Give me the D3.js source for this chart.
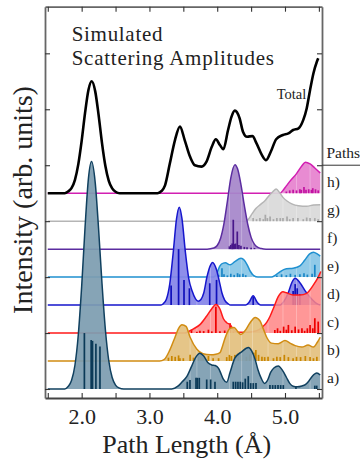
<!DOCTYPE html>
<html><head><meta charset="utf-8">
<script src="https://cdnjs.cloudflare.com/ajax/libs/d3/7.8.5/d3.min.js"></script>
<style>body{margin:0;background:#fff}svg{display:block}text{font-family:"Liberation Serif","DejaVu Serif",serif;fill:#222}</style>
</head><body><svg id="c" width="360" height="462"></svg>
<script>
// ---- data (x in Å, height in units of baseline spacing) ----
const seriesLabels = ["a)","b)","c)","d)","e)","f)","g)","h)"];
const offsets = [0,1,2,3,4,5,6,7];
const totalOffset = 7;
const xTickValues = [1.5,2,2.5,3,3.5,4,4.5,5,5.5];
const xTickLabels = ["","2.0","","3.0","","4.0","","5.0",""];
const yTickValues = [0,2,4,6,8,10,12];
const guideX = [3.60,3.70,3.90,4.18,4.36,4.52,4.75,4.97,5.17,5.37];

const pathA = [[1.5,0],[1.75,0],[1.80,0.09],[1.85,0.30],[1.90,0.84],[1.95,1.93],[2.00,3.67],[2.05,5.78],[2.10,7.53],[2.145,8.13],[2.20,7.38],[2.25,5.71],[2.30,3.77],[2.35,2.12],[2.40,1.01],[2.45,0.41],[2.50,0.14],[2.55,0.04],[2.62,0],[3.33,0],[3.42,0.1],[3.48,0.25],[3.55,0.44],[3.62,0.8],[3.68,1.12],[3.745,1.28],[3.80,1.18],[3.86,0.95],[3.92,0.86],[3.97,0.84],[4.02,0.74],[4.06,0.52],[4.09,0.35],[4.14,0.24],[4.19,0.6],[4.26,1.1],[4.36,1.33],[4.46,1.48],[4.51,1.35],[4.56,1.05],[4.60,0.7],[4.65,0.38],[4.70,0.2],[4.74,0.3],[4.79,0.6],[4.84,0.76],[4.90,0.82],[4.97,0.64],[5.02,0.42],[5.07,0.2],[5.12,0.1],[5.18,0.08],[5.25,0.11],[5.30,0.16],[5.35,0.28],[5.40,0.45],[5.47,0.57],[5.52,0.5]];
const pathB = [[1.5,0],[3.15,0],[3.22,0.06],[3.30,0.39],[3.38,0.87],[3.43,1.17],[3.48,1.3],[3.54,1.24],[3.60,0.85],[3.70,0.42],[3.79,0.26],[3.90,0.22],[3.98,0.24],[4.04,0.3],[4.08,0.55],[4.12,0.85],[4.19,1.17],[4.25,1.2],[4.30,1.06],[4.35,0.95],[4.41,1.08],[4.48,1.35],[4.56,1.56],[4.63,1.44],[4.68,1.15],[4.73,0.85],[4.80,0.64],[4.90,0.62],[5.0,0.73],[5.08,0.63],[5.15,0.55],[5.25,0.5],[5.34,0.57],[5.42,0.5],[5.48,0.68],[5.52,0.85]];
const pathC = [[1.5,0],[3.52,0],[3.58,0.06],[3.65,0.15],[3.745,0.3],[3.84,0.59],[3.92,0.87],[3.98,1.02],[4.04,0.86],[4.09,0.52],[4.14,0.37],[4.19,0.3],[4.24,0.13],[4.30,0.03],[4.45,0.03],[4.58,0.08],[4.66,0.2],[4.73,0.38],[4.78,0.6],[4.84,0.95],[4.90,1.3],[4.97,1.48],[5.02,1.44],[5.12,1.36],[5.22,1.36],[5.32,1.42],[5.42,1.72],[5.49,2.0],[5.53,2.2]];
const pathD = [[1.5,0],[3.16,0],[3.20,0.04],[3.25,0.21],[3.30,0.76],[3.35,1.86],[3.40,3.09],[3.44,3.5],[3.48,3.09],[3.53,1.9],[3.58,0.95],[3.63,0.5],[3.68,0.22],[3.72,0.14],[3.76,0.2],[3.80,0.42],[3.85,1.02],[3.90,1.42],[3.93,1.52],[3.99,1.26],[4.04,0.75],[4.07,0.43],[4.11,0.18],[4.16,0.05],[4.20,0],[4.42,0],[4.47,0.1],[4.53,0.33],[4.59,0.1],[4.64,0],[4.92,0],[4.98,0.12],[5.05,0.45],[5.10,0.8],[5.15,0.96],[5.22,0.8],[5.30,0.5],[5.40,0.2],[5.47,0.05],[5.52,0]];
const pathE = [[1.5,0],[3.95,0],[3.99,0.12],[4.04,0.4],[4.09,0.5],[4.12,0.51],[4.19,0.44],[4.26,0.55],[4.35,0.67],[4.40,0.6],[4.44,0.45],[4.49,0.2],[4.54,0.05],[4.60,0],[4.80,0],[4.86,0.07],[4.93,0.2],[5.02,0.3],[5.12,0.32],[5.22,0.4],[5.29,0.6],[5.36,0.82],[5.42,0.89],[5.48,0.82],[5.52,0.75]];
const pathF = [[1.5,0],[3.85,0],[3.95,0.04],[4.00,0.13],[4.05,0.39],[4.10,0.92],[4.15,1.71],[4.20,2.54],[4.262,3.02],[4.30,2.87],[4.35,2.31],[4.40,1.56],[4.45,0.89],[4.50,0.42],[4.55,0.17],[4.60,0.06],[4.65,0.02],[4.72,0],[5.52,0]];
const pathG = [[1.5,0],[4.42,0],[4.47,0.1],[4.51,0.25],[4.57,0.45],[4.64,0.6],[4.70,0.72],[4.76,0.9],[4.82,1.05],[4.87,1.15],[4.92,1.02],[4.97,0.85],[5.03,0.72],[5.10,0.62],[5.20,0.55],[5.32,0.53],[5.42,0.58],[5.52,0.59]];
const pathH = [[1.5,0],[4.93,0],[4.97,0.1],[5.02,0.26],[5.08,0.45],[5.17,0.7],[5.25,0.98],[5.30,1.11],[5.37,1.05],[5.44,0.9],[5.52,0.72]];
const totalCurve = [[1.5,0],[1.75,0],[1.80,0.06],[1.85,0.18],[1.90,0.47],[1.95,1.03],[2.00,1.87],[2.05,2.87],[2.10,3.69],[2.148,4.0],[2.20,3.64],[2.25,2.79],[2.30,1.79],[2.35,0.97],[2.40,0.44],[2.45,0.17],[2.50,0.05],[2.56,0],[3.12,0],[3.18,0.08],[3.23,0.28],[3.30,1.05],[3.377,1.9],[3.45,2.38],[3.52,1.9],[3.60,1.3],[3.67,1.0],[3.77,0.95],[3.84,1.12],[3.92,1.66],[3.98,1.93],[4.04,1.72],[4.09,1.57],[4.16,2.26],[4.21,2.73],[4.26,2.95],[4.33,2.68],[4.38,2.2],[4.44,2.02],[4.52,2.04],[4.58,1.78],[4.66,1.36],[4.72,1.18],[4.79,1.48],[4.87,1.93],[4.97,2.08],[5.05,2.14],[5.12,2.26],[5.20,2.32],[5.27,2.62],[5.32,3.03],[5.37,3.69],[5.42,4.29],[5.47,4.7],[5.49,4.82]];

const sticksA = [[2.04,2.0],[2.14,1.75],[2.16,1.72],[2.21,1.62],[2.27,1.52],[3.558,0.26],[3.598,0.32],[3.687,0.4],[3.706,0.4],[3.735,0.4],[3.845,0.34],[3.903,0.34],[3.967,0.26],[4.237,0.26],[4.272,0.26],[4.306,0.26],[4.34,0.26],[4.375,0.24],[4.414,0.37],[4.458,0.46],[4.494,0.21],[4.532,0.21],[4.572,0.21],[4.778,0.14],[4.818,0.14],[4.857,0.14],[4.897,0.14],[4.936,0.14],[4.975,0.14],[5.162,0.1],[5.44,0.12],[5.468,0.12]];
const sticksB = [[3.28,0.12],[3.33,0.18],[3.38,0.15],[3.43,0.2],[3.45,0.1],[3.50,0.1],[3.60,0.22],[3.65,0.12],[3.72,0.16],[3.76,0.27],[3.79,0.14],[3.87,0.18],[3.94,0.1],[4.02,0.1],[4.14,0.14],[4.18,0.22],[4.21,0.18],[4.26,0.22],[4.31,0.27],[4.36,0.22],[4.43,0.15],[4.48,0.24],[4.54,0.3],[4.57,0.39],[4.61,0.22],[4.66,0.15],[4.70,0.14],[4.75,0.15],[4.83,0.1],[4.88,0.15],[4.93,0.14],[4.99,0.22],[5.05,0.14],[5.12,0.1],[5.17,0.15],[5.23,0.14],[5.30,0.18],[5.37,0.14],[5.42,0.1],[5.47,0.15]];
const sticksC = [[3.62,0.11],[3.70,0.05],[3.745,0.08],[3.80,0.07],[3.87,0.12],[3.92,0.06],[3.98,0.94],[4.04,0.06],[4.11,0.09],[4.19,0.35],[4.24,0.06],[4.85,0.11],[4.89,0.17],[4.93,0.08],[4.98,0.23],[5.02,0.12],[5.05,0.29],[5.10,0.1],[5.15,0.23],[5.20,0.13],[5.25,0.17],[5.29,0.08],[5.33,0.17],[5.37,0.29],[5.41,0.17],[5.44,0.53],[5.49,0.41]];
const sticksD = [[3.32,0.7],[3.43,2.0],[3.51,0.9],[3.59,0.6],[3.89,0.78],[3.99,0.9],[4.53,0.3],[5.12,0.5],[5.15,0.75],[5.18,0.6],[5.22,0.4]];
const sticksE = [[4.02,0.08],[4.07,0.32],[4.10,0.1],[4.15,0.06],[4.20,0.12],[4.25,0.08],[4.30,0.14],[4.33,0.1],[4.38,0.12],[4.42,0.07],[4.88,0.06],[4.95,0.1],[5.02,0.07],[5.08,0.12],[5.15,0.08],[5.22,0.1],[5.28,0.14],[5.33,0.09],[5.40,0.12],[5.44,0.44]];
const sticksF = [[4.18,0.1],[4.20,0.15],[4.22,0.2],[4.237,1.05],[4.25,0.18],[4.27,0.2],[4.296,0.63],[4.32,0.15],[4.35,0.12],[4.40,0.08],[4.44,0.07],[4.50,0.05],[4.55,0.04]];
const sticksG = [[4.53,0.11],[4.58,0.07],[4.63,0.11],[4.68,0.07],[4.71,0.23],[4.74,0.11],[4.78,0.17],[4.83,0.07],[4.88,0.11],[4.93,0.11],[4.97,0.11],[5.03,0.17],[5.07,0.07],[5.12,0.11],[5.19,0.11],[5.27,0.07],[5.32,0.13],[5.37,0.11],[5.44,0.11],[5.49,0.07]];
const sticksH = [[5.02,0.06],[5.07,0.1],[5.12,0.12],[5.17,0.1],[5.22,0.14],[5.24,0.12],[5.28,0.22],[5.31,0.12],[5.35,0.14],[5.39,0.12],[5.41,0.18],[5.45,0.14],[5.49,0.1]];

const fillColors  = ["#7d9db0","#e3c17f","#ff8585","#8585e8","#88c6e6","#a687ca","#d9d9d9","#e682cf"];
const lineColors  = ["#10405f","#d18c12","#ff1a1a","#1616cc","#1f90d0","#5b2ca0","#b5b5b5","#d21fb2"];
const stickColors = ["#0b3a58","#c98600","#ee0000","#1010bb","#1a86c6","#48188a","#a9a9a9","#c212a2"];

const curves = [pathA,pathB,pathC,pathD,pathE,pathF,pathG,pathH];
const sticks = [sticksA,sticksB,sticksC,sticksD,sticksE,sticksF,sticksG,sticksH];

// ---- chart ----
const svg = d3.select("#c");
const x = d3.scaleLinear().domain([1.459,5.546]).range([45,322]);
const y = d3.scaleLinear().domain([-0.322,13.667]).range([398,6.7]);

const defs = svg.append("defs");
const g = svg.append("g");

for (let i = curves.length-1; i >= 0; i--) {
  const off = offsets[i];
  const area = d3.area().curve(d3.curveMonotoneX)
    .x(d=>x(d[0])).y0(y(off)).y1(d=>y(off+d[1]));
  const line = d3.line().curve(d3.curveMonotoneX)
    .x(d=>x(d[0])).y(d=>y(off+d[1]));
  const grp = g.append("g");
  defs.append("clipPath").attr("id","clip"+i).append("path").attr("d",area(curves[i]));
  grp.append("path").attr("d",area(curves[i])).attr("fill",fillColors[i]).attr("fill-opacity",i===2?0.85:0.93);
  grp.append("g").attr("clip-path","url(#clip"+i+")").selectAll("line").data(guideX).join("line")
    .attr("x1",d=>x(d)).attr("x2",d=>x(d)).attr("y1",y(off)).attr("y2",y(off+4))
    .attr("stroke","#fff").attr("stroke-opacity",0.28).attr("stroke-width",1);
  grp.append("g").selectAll("line").data(sticks[i]).join("line")
    .attr("x1",d=>x(d[0])).attr("x2",d=>x(d[0]))
    .attr("y1",y(off)).attr("y2",d=>y(off+d[1]))
    .attr("stroke",stickColors[i]).attr("stroke-width",1.7);
  grp.append("path").attr("d",line(curves[i])).attr("fill","none")
    .attr("stroke",lineColors[i]).attr("stroke-width",1.5);
}

// total
g.append("path").attr("d",d3.line().curve(d3.curveMonotoneX).x(d=>x(d[0])).y(d=>y(totalOffset+d[1]))(totalCurve))
  .attr("fill","none").attr("stroke","#000").attr("stroke-width",2.6);

// axes
const axB = svg.append("g").attr("transform","translate(0,398)")
  .call(d3.axisBottom(x).tickValues(xTickValues).tickSizeInner(-5).tickSizeOuter(0).tickPadding(10.5)
    .tickFormat((d,i)=>xTickLabels[i]));
const axT = svg.append("g").attr("transform","translate(0,6.7)")
  .call(d3.axisTop(x).tickValues(xTickValues).tickSizeInner(-5).tickSizeOuter(0).tickFormat(""));
const axL = svg.append("g").attr("transform","translate(45,0)")
  .call(d3.axisLeft(y).tickValues(yTickValues).tickSizeInner(-5).tickSizeOuter(0).tickFormat(""));
const axR = svg.append("g").attr("transform","translate(322,0)")
  .call(d3.axisRight(y).tickValues(yTickValues).tickSizeInner(-5).tickSizeOuter(0).tickFormat(""));
[axB,axT,axL,axR].forEach(a=>{
  a.select(".domain").attr("stroke","#666").attr("stroke-width",1.8);
  a.selectAll(".tick line").attr("stroke","#333").attr("stroke-width",1.1);
});
axB.select(".domain").attr("stroke","#444");
axB.selectAll(".tick text").attr("font-family","Liberation Serif, serif").attr("font-size",22).attr("fill","#222");

// texts
svg.append("text").attr("x",186.7).attr("y",453).attr("text-anchor","middle").attr("font-size",26).text("Path Length (Å)");
svg.append("text").attr("transform","translate(32,200) rotate(-90)").attr("text-anchor","middle").attr("font-size",28).text("Intensity (arb. units)");
svg.append("text").attr("x",71.7).attr("y",41).attr("font-size",21).attr("letter-spacing",0.7).text("Simulated");
svg.append("text").attr("x",71.7).attr("y",64.5).attr("font-size",21).attr("letter-spacing",0.75).text("Scattering Amplitudes");
svg.append("text").attr("x",276.7).attr("y",99).attr("font-size",14.5).text("Total");
svg.append("text").attr("x",326.5).attr("y",158).attr("font-size",15.5).text("Paths");
svg.append("line").attr("x1",322).attr("x2",360).attr("y1",y(8)).attr("y2",y(8)).attr("stroke","#333").attr("stroke-width",1);
svg.append("g").selectAll("text").data(seriesLabels).join("text")
  .attr("x",327).attr("y",(d,i)=>y(offsets[i])-6).attr("font-size",15.5).text(d=>d);
</script></body></html>
